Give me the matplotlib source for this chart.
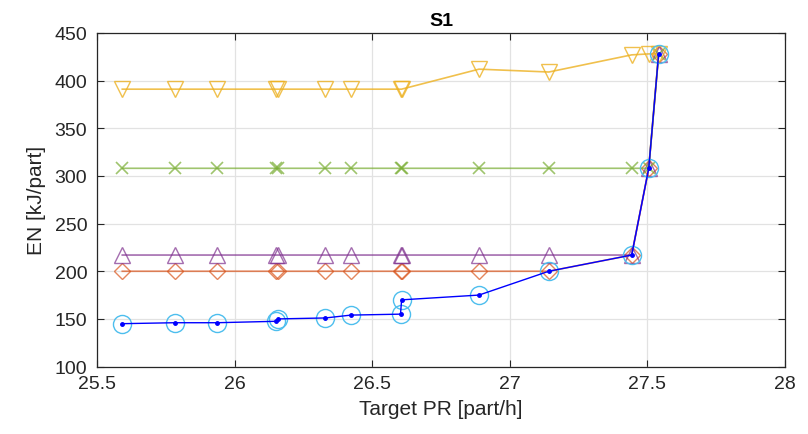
import matplotlib.pyplot as plt

# shared target production rates [part/h]
target_pr = [25.592, 25.783, 25.935, 26.152, 26.158, 26.33, 26.423,
             26.603, 26.607, 26.888, 27.142, 27.443, 27.505, 27.541]

en_orange = [200, 200, 200, 200, 200, 200, 200, 200, 200, 200, 200, 217, 308, 428]
en_purple = [217, 217, 217, 217, 217, 217, 217, 217, 217, 217, 217, 217, 308, 428]
en_green = [308, 308, 308, 308, 308, 308, 308, 308, 308, 308, 308, 308, 308, 428]
en_yellow = [391, 391, 391, 391, 391, 391, 391, 391, 391, 412, 409, 427, 428, 428]
en_blue = [145, 146, 146, 147.5, 150, 151, 154, 155, 170, 175, 200, 217, 308, 428]

plt.rcParams['font.family'] = ['Liberation Sans', 'DejaVu Sans']


def main():
    fig = plt.figure(figsize=(8.08, 4.35), dpi=100)
    ax = fig.add_axes([0.12, 0.155, 0.8515, 0.767])

    ax.plot(target_pr, en_orange, '-', color='#D95319', lw=1.2, alpha=0.7,
            marker='D', ms=8, mfc='none', mew=1.0)
    ax.plot(target_pr, en_purple, '-', color='#7E2F8E', lw=1.2, alpha=0.7,
            marker='^', ms=11, mfc='none', mew=1.0)
    ax.plot(target_pr, en_green, '-', color='#77AC30', lw=1.2, alpha=0.7,
            marker='x', ms=9, mew=1.2)
    ax.plot(target_pr, en_yellow, '-', color='#EDB120', lw=1.2, alpha=0.8,
            marker='v', ms=11, mfc='none', mew=1.0)
    ax.plot(target_pr, en_blue, 'o', ms=13, mfc='none', mew=1.0, mec='#4DBEEE')
    ax.plot(target_pr, en_blue, '-', color='#0000FF', lw=1.0,
            marker='.', ms=5)

    ax.set_xlim(25.5, 28)
    ax.set_ylim(100, 450)
    ax.set_xticks([25.5, 26, 26.5, 27, 27.5, 28])
    ax.set_xticklabels(['25.5', '26', '26.5', '27', '27.5', '28'])
    ax.set_yticks(range(100, 451, 50))

    ax.grid(True, color='#e2e2e2', lw=0.9)
    ax.set_axisbelow(True)
    ax.tick_params(direction='in', top=True, right=True, labelsize=14,
                   colors='#262626', length=5, width=0.8)
    ax.tick_params(axis='y', pad=7)
    ax.tick_params(axis='x', pad=6)
    for s in ax.spines.values():
        s.set_color('#262626')
        s.set_linewidth(0.9)

    ax.set_xlabel('Target PR [part/h]', fontsize=15, color='#262626', labelpad=5)
    ax.set_ylabel('EN [kJ/part]', fontsize=15, color='#262626', labelpad=6)
    ax.set_title('S1', fontsize=14, fontweight='bold', pad=6)

    plt.savefig('out.png', dpi=100)


if __name__ == '__main__':
    main()
